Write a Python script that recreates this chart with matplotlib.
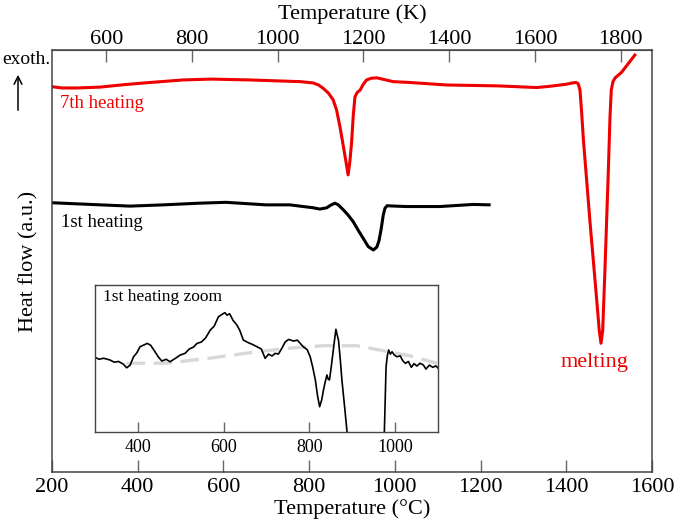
import numpy as np
import matplotlib
matplotlib.use('Agg')
import matplotlib.pyplot as plt

plt.rcParams['font.family'] = ['Liberation Serif', 'DejaVu Serif']

# 7th heating (red), temperature in degC, heat flow in a.u.
t_7th = [200, 223, 260, 312, 370, 429, 506, 571, 662, 720, 779, 809, 822,
         833, 845, 856, 864, 872, 880, 886, 891, 895, 899, 903, 907, 912,
         919, 926, 934, 945, 958, 975, 996, 1035, 1121, 1238, 1331, 1362,
         1401, 1415, 1423, 1428, 1432, 1436, 1440, 1455, 1471, 1477, 1481,
         1485, 1490, 1498, 1502, 1505, 1509, 1514, 1529, 1560]
hf_7th = [91.3, 91.0, 91.0, 91.2, 91.8, 92.3, 92.9, 93.1, 92.9, 92.7, 92.5,
          92.2, 91.7, 90.9, 89.8, 88.2, 85.8, 81.8, 77.1, 73.5, 70.4, 73.5,
          78.0, 84.5, 88.9, 89.9, 90.5, 91.8, 92.9, 93.3, 93.4, 93.0, 92.5,
          92.3, 91.7, 91.5, 91.1, 91.4, 91.9, 92.2, 92.3, 92.0, 90.5, 85.0,
          78.7, 59.7, 40.8, 33.5, 30.5, 33.5, 47.2, 70.9, 84.0, 90.5, 92.5,
          93.4, 94.7, 98.8]

# 1st heating (black)
t_1st = [200, 290, 382, 460, 545, 606, 699, 755, 810, 825, 841, 850, 860,
         868, 880, 890, 903, 915, 926, 938, 950, 958, 963, 968, 973, 977,
         982, 1000, 1028, 1105, 1183, 1220]
hf_1st = [63.8, 63.4, 63.0, 63.3, 63.7, 63.9, 63.3, 63.3, 62.6, 62.3, 62.6,
          63.2, 63.7, 63.3, 62.1, 61.0, 59.3, 57.2, 55.4, 53.4, 52.6, 53.3,
          54.8, 57.5, 60.9, 62.5, 63.1, 63.0, 62.9, 62.9, 63.4, 63.3]

# inset: 1st heating zoom
t_zoom = [300, 310, 320, 335, 345, 355, 366, 374, 382, 390, 398, 405, 414,
          422, 430, 440, 448, 456, 466, 475, 487, 499, 510, 520, 530, 538,
          548, 558, 569, 578, 588, 596, 603, 608, 614, 622, 631, 638, 646,
          656, 668, 678, 688, 697, 705, 713, 720, 728, 736, 744, 752, 763,
          772, 786, 795, 802, 808, 814, 819, 824, 829, 833, 837, 841, 844,
          847, 851, 855, 859, 862, 865, 868, 872, 876, 882, 888, 920, 950,
          966, 975, 979, 982, 985, 989, 993, 998, 1004, 1012, 1018, 1024,
          1031, 1038, 1044, 1051, 1058, 1066, 1072, 1080, 1088, 1095, 1101]
hf_zoom = [50.8, 49.5, 50.2, 49.0, 47.5, 48.0, 46.2, 43.7, 45.5, 51.2, 54.0,
           58.0, 59.2, 60.3, 59.0, 54.6, 51.0, 48.3, 49.5, 47.8, 50.0, 52.4,
           53.5, 56.5, 57.8, 60.3, 61.2, 64.0, 69.4, 72.0, 78.4, 80.0, 81.2,
           79.5, 80.5, 76.0, 72.8, 69.0, 62.6, 61.0, 59.5, 58.0, 56.5, 50.1,
           53.0, 51.7, 53.5, 53.1, 57.0, 61.4, 63.0, 61.9, 62.5, 58.0, 56.0,
           51.2, 44.0, 35.4, 25.0, 17.2, 22.0, 28.6, 34.0, 38.8, 36.0, 35.4,
           44.0, 53.5, 63.0, 69.9, 66.0, 62.6, 50.0, 35.4, 18.0, 0.0, -80,
           -120, -80, 0.0, 44.4, 52.0, 55.8, 53.0, 54.6, 52.5, 51.2, 51.8,
           48.5, 46.7, 48.0, 44.0, 46.5, 44.9, 46.8, 45.6, 42.8, 45.5, 44.0,
           45.0, 43.3]

# inset baseline (grey dashed)
t_base = [374, 468, 569, 678, 760, 833, 911, 973, 1040, 1098]
hf_base = [46.7, 46.9, 50.3, 54.6, 57.2, 58.7, 58.7, 55.3, 51.5, 46.7]

fig = plt.figure(figsize=(6.75, 5.19), dpi=100)
ax = fig.add_axes([0.0770, 0.0906, 0.8889, 0.8131])

ax.plot(t_7th, hf_7th, color='#ee0000', lw=2.2, solid_joinstyle='round')
ax.plot(t_1st, hf_1st, color='black', lw=2.2, solid_joinstyle='round')

ax.set_xlim(200, 1600)
ax.set_ylim(0, 100)
ax.set_xticks(np.arange(200, 1601, 200))
ax.set_yticks([])
ax.tick_params(axis='x', direction='in', length=8.5, width=1, color='#666666',
               labelsize=16, pad=4)
for s in ax.spines.values():
    s.set_color('#444444')
    s.set_linewidth(1.1)
ax.set_xlabel('Temperature (°C)', fontsize=16, labelpad=1.5)
ax.set_ylabel('Heat flow (a.u.)', fontsize=16, labelpad=10)

sec = ax.secondary_xaxis('top', functions=(lambda c: c + 273.15,
                                           lambda k: k - 273.15))
sec.set_xticks(np.arange(600, 1801, 200))
sec.tick_params(axis='x', direction='in', length=8.5, width=1, color='#666666',
                labelsize=16, pad=0.5)
sec.spines['top'].set_color('#444444')
sec.set_xlabel('Temperature (K)', fontsize=16, labelpad=8)

ax.text(219, 87.2, '7th heating', color='#ee0000', fontsize=13.5,
        ha='left', va='center')
ax.text(221, 59.0, '1st heating', color='black', fontsize=13.5,
        ha='left', va='center')
ax.text(1467, 25.9, 'melting', color='#ee0000', fontsize=16,
        ha='center', va='center')

fig.text(2 / 675, 1 - 60 / 519, 'exoth.', fontsize=14, ha='left', va='center')
fig.add_artist(matplotlib.patches.FancyArrowPatch(
    (18 / 675, 1 - 113 / 519), (18 / 675, 1 - 72 / 519),
    transform=fig.transFigure, arrowstyle='->', mutation_scale=14,
    color='black', lw=1.1))

ins = fig.add_axes([0.1407, 0.1676, 0.5081, 0.2832])
ins.plot(t_base, hf_base, color='#d8d8d8', lw=2.4, dashes=(5.5, 2.6))
ins.plot(t_zoom, hf_zoom, color='black', lw=1.2)
ins.set_xlim(300, 1100)
ins.set_ylim(0, 100)
ins.set_xticks([400, 600, 800, 1000])
ins.set_yticks([])
ins.tick_params(axis='x', direction='in', length=7, width=1, color='#666666',
                labelsize=13, pad=5)
for s in ins.spines.values():
    s.set_color('#444444')
    s.set_linewidth(1.0)
ins.text(0.024, 0.92, '1st heating zoom', transform=ins.transAxes,
         fontsize=12.5, ha='left', va='center')

fig.savefig('out.png', dpi=100)
